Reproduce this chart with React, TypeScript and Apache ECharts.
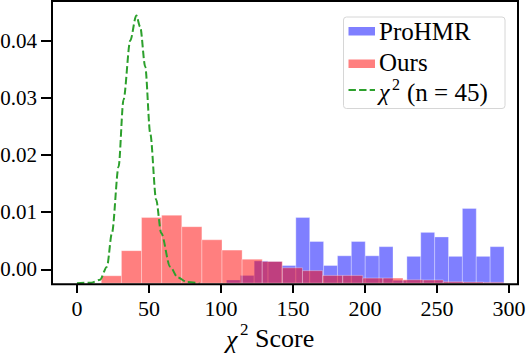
import React, { useEffect, useRef } from "react";
import * as echarts from "echarts";

const FONT = "'Liberation Serif', 'Times New Roman', serif";

// Histogram bins (equal width) and densities
const blueStart = 103.8;
const blueWidth = 9.64;
const blueDensity = [
  0.00056, 0.00136, 0.0039, 0.0038, 0.0031, 0.0115, 0.0073, 0.0031, 0.0048, 0.0073,
  0.0048, 0.0064, 0.0005, 0.0047, 0.0089, 0.0081, 0.0047, 0.0131, 0.0047, 0.0064,
];
const redStart = 16.9;
const redWidth = 13.97;
const redDensity = [
  0.0013, 0.0057, 0.0115, 0.0119, 0.0099, 0.0076, 0.0058, 0.0042, 0.0038, 0.0027,
  0.0022, 0.00136, 0.00136, 0.0009, 0.0009, 0.0006, 0.00056, 0.00026, 0.0002, 0.00015,
];
// chi-square reference curve
const chiX = [0, 10, 16, 20.8, 24.3, 28.9, 32.3, 37, 41.2, 43.9, 47.4, 50.9, 55, 58.5, 64.7, 70, 76.3, 85];
const chiY = [0, 0.0001, 0.0006, 0.0029, 0.0088, 0.0204, 0.0321, 0.0425, 0.0469, 0.0449, 0.0379, 0.0262, 0.0146, 0.0088, 0.0029, 0.001, 0.0002, 0];

const xTicks = [0, 50, 100, 150, 200, 250, 300];
const yTicks = [0, 0.01, 0.02, 0.03, 0.04];

function bins(start: number, width: number, vals: number[]) {
  return vals.map((v, i) => [start + i * width, start + (i + 1) * width, v]);
}

function histSeries(name: string, data: number[][], fill: string) {
  return {
    name,
    type: "custom",
    xAxisIndex: 0,
    yAxisIndex: 1,
    encode: { x: [0, 1], y: 2 },
    data,
    clip: true,
    renderItem: (_p: any, api: any) => {
      const x0 = api.value(0);
      const x1 = api.value(1);
      const h = api.value(2);
      const a = api.coord([x0, h]);
      const b = api.coord([x1, 0]);
      return {
        type: "rect",
        shape: { x: a[0], y: a[1], width: b[0] - a[0], height: b[1] - a[1] },
        style: { fill, stroke: "rgba(255,255,255,0.45)", lineWidth: 0.7 },
      };
    },
  };
}

export default function App() {
  const ref = useRef<HTMLDivElement>(null);
  useEffect(() => {
    const chart = echarts.init(ref.current!, undefined, { renderer: "svg" });
    const option: any = {
      animation: false,
      backgroundColor: "#fff",
      grid: { left: 52, right: 11, top: 1, bottom: 69, outerBoundsMode: "none", containLabel: false },
      xAxis: {
        type: "value",
        min: -17.35,
        max: 306.3,
        splitLine: { show: false },
        axisLine: { show: false, onZero: false },
        axisTick: {
          show: true,
          customValues: xTicks,
          length: 9,
          lineStyle: { color: "#000", width: 2 },
        },
        axisLabel: {
          customValues: xTicks,
          color: "#000",
          fontFamily: FONT,
          fontSize: 22,
          margin: 13,
        },
      },
      yAxis: [
        {
          type: "value",
          min: -0.00257,
          max: 0.047,
          splitLine: { show: false },
          axisLine: { show: false, onZero: false },
          axisTick: {
            show: true,
            customValues: yTicks,
            length: 11,
            lineStyle: { color: "#000", width: 2 },
          },
          axisLabel: {
            customValues: yTicks,
            color: "#000",
            fontFamily: FONT,
            fontSize: 21,
            margin: 15,
            formatter: (v: number) => v.toFixed(2),
          },
        },
        {
          type: "value",
          min: -0.00014,
          max: 0.04943,
          show: false,
          axisLine: { onZero: false },
          splitLine: { show: false },
        },
      ],
      series: [
        histSeries("ProHMR", bins(blueStart, blueWidth, blueDensity), "rgba(0,0,255,0.5)"),
        histSeries("Ours", bins(redStart, redWidth, redDensity), "rgba(255,0,0,0.5)"),
        {
          name: "chi2",
          type: "line",
          xAxisIndex: 0,
          yAxisIndex: 1,
          data: chiX.map((x, i) => [x, chiY[i]]),
          showSymbol: false,
          smooth: 0.3,
          smoothMonotone: "x",
          z: 5,
          lineStyle: { color: "#2ca02c", width: 2, type: [7.4, 3.2] },
        },
      ],
      graphic: [
        {
          type: "rect",
          z: 100,
          shape: { x: 52, y: 1, width: 466, height: 283.3 },
          style: { fill: "none", stroke: "#000", lineWidth: 2 },
        },
        {
          type: "rect",
          z: 101,
          shape: { x: 343.5, y: 17, width: 161.5, height: 91.5, r: 3 },
          style: { fill: "rgba(255,255,255,0.8)", stroke: "#d6d6d6", lineWidth: 1 },
        },
        {
          type: "rect",
          z: 102,
          shape: { x: 348.5, y: 27, width: 26.5, height: 8.5 },
          style: { fill: "rgba(0,0,255,0.5)" },
        },
        {
          type: "rect",
          z: 102,
          shape: { x: 348.5, y: 59.5, width: 26.5, height: 8.5 },
          style: { fill: "rgba(255,0,0,0.5)" },
        },
        {
          type: "line",
          z: 102,
          shape: { x1: 348.5, y1: 90, x2: 375, y2: 90 },
          style: { stroke: "#2ca02c", lineWidth: 2, lineDash: [7.4, 3.2] },
        },
        {
          type: "text",
          z: 102,
          x: 379,
          y: 31.5,
          style: { text: "ProHMR", font: `25px ${FONT}`, fill: "#000", verticalAlign: "middle" },
        },
        {
          type: "text",
          z: 102,
          x: 379,
          y: 62,
          style: { text: "Ours", font: `25px ${FONT}`, fill: "#000", verticalAlign: "middle" },
        },
        {
          type: "text",
          z: 102,
          x: 379,
          y: 92,
          style: { text: "χ", font: `italic 24px ${FONT}`, fill: "#000", verticalAlign: "middle" },
        },
        {
          type: "text",
          z: 102,
          x: 392,
          y: 84,
          style: { text: "2", font: `16px ${FONT}`, fill: "#000", verticalAlign: "middle" },
        },
        {
          type: "text",
          z: 102,
          x: 407,
          y: 92,
          style: { text: "(n = 45)", font: `25px ${FONT}`, fill: "#000", verticalAlign: "middle" },
        },
        {
          type: "text",
          z: 102,
          x: 226,
          y: 339,
          style: { text: "χ", font: `italic 26px ${FONT}`, fill: "#000", verticalAlign: "middle" },
        },
        {
          type: "text",
          z: 102,
          x: 240,
          y: 329,
          style: { text: "2", font: `17px ${FONT}`, fill: "#000", verticalAlign: "middle" },
        },
        {
          type: "text",
          z: 102,
          x: 255,
          y: 338,
          style: { text: "Score", font: `26px ${FONT}`, fill: "#000", verticalAlign: "middle" },
        },
      ],
    };
    chart.setOption(option);
    return () => chart.dispose();
  }, []);
  return <div ref={ref} style={{ width: 529, height: 353, position: "fixed", left: 0, top: 0 }} />;
}
